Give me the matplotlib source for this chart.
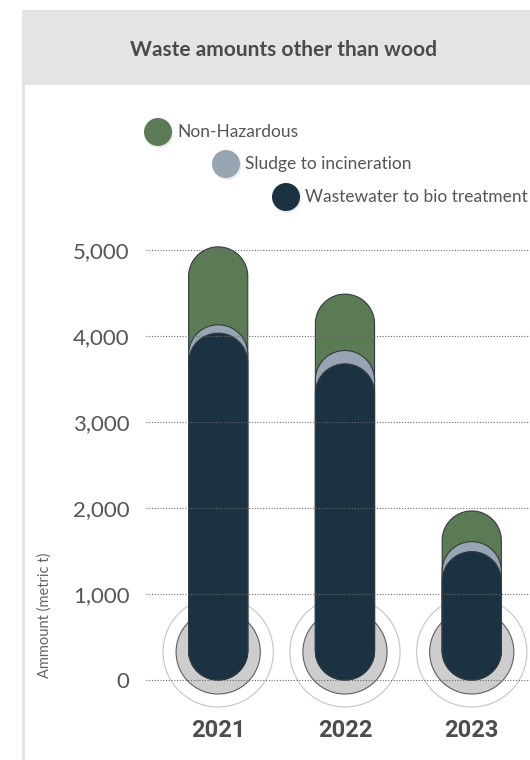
import numpy as np
import matplotlib
matplotlib.use("Agg")
import matplotlib.pyplot as plt
from matplotlib.patches import Polygon, Ellipse, Rectangle, Circle
from matplotlib.lines import Line2D

# data (metric t)
years = ["2021", "2022", "2023"]
series = ["Non-Hazardous", "Sludge to incineration", "Wastewater to bio treatment"]
wastewater = [4036, 3679, 1494]
sludge = [97, 155, 116]
non_hazardous = [907, 656, 357]
yticks = [0, 1000, 2000, 3000, 4000, 5000]

colors = ["#5b7b54", "#97a5b2", "#1b3242"]

W, H = 530, 760
fig = plt.figure(figsize=(W / 100, H / 100), dpi=100)
fig.patch.set_facecolor("white")

# overlay in pixel coordinates for header / legend
bg = fig.add_axes([0, 0, 1, 1], zorder=0)
bg.set_xlim(0, W)
bg.set_ylim(H, 0)
bg.axis("off")
bg.add_patch(Rectangle((22, 10), W - 22, 75, facecolor="#e3e5e4", edgecolor="none"))
bg.add_line(Line2D([23, 23], [85, H], color="#e2e2e2", lw=2))
bg.text(283, 50, "Waste amounts other than wood", ha="center", va="center",
        fontsize=15, fontweight="bold", family="Lato", color="#4a4a4a")

leg_pos = [(158, 132), (226, 164), (286, 197)]
for (cx, cy), name, col in zip(leg_pos, series, colors):
    bg.add_patch(Circle((cx + 1, cy + 1.5), 14.5, facecolor="#000000", alpha=0.08, edgecolor="none"))
    bg.add_patch(Circle((cx, cy), 14, facecolor=col, edgecolor="none"))
    bg.text(cx + 19, cy, name, ha="left", va="center", fontsize=12.5,
            family="Lato", color="#555555")

# main axes
ax = fig.add_axes([146 / W, 1 - 712 / H, 1 - 146 / W, (712 - 230) / H], zorder=1)
ax.patch.set_alpha(0)
x_per_px = 1 / 126.45
y_per_px = 1000 / 85.94
ax.set_xlim(-72 * x_per_px, 311 * x_per_px)
ax.set_ylim(-32 * y_per_px, 450 * y_per_px)

rx = 29.5 * x_per_px
ry = 29.5 * y_per_px


def capsule(xc, top, col):
    t1 = np.linspace(0, np.pi, 60)
    t2 = np.linspace(np.pi, 2 * np.pi, 60)
    xs = np.concatenate([xc + rx * np.cos(t1), xc + rx * np.cos(t2)])
    ys = np.concatenate([top - ry + ry * np.sin(t1), ry + ry * np.sin(t2)])
    return Polygon(np.column_stack([xs, ys]), closed=True, facecolor=col,
                   edgecolor="#333b40", lw=0.8, clip_on=False, zorder=3)


cy0 = 28 * y_per_px
for i in range(len(years)):
    ax.add_patch(Ellipse((i, cy0), 2 * 55 * x_per_px, 2 * 55 * y_per_px, facecolor="white",
                         edgecolor="#c4c4c4", lw=0.8, clip_on=False, zorder=1))
    ax.add_patch(Ellipse((i, cy0), 2 * 42 * x_per_px, 2 * 42 * y_per_px, facecolor="#cdcdcd",
                         edgecolor="#5e5e5e", lw=0.8, clip_on=False, zorder=2))
    total = wastewater[i] + sludge[i] + non_hazardous[i]
    ax.add_patch(capsule(i, total, colors[0]))
    ax.add_patch(capsule(i, wastewater[i] + sludge[i], colors[1]))
    ax.add_patch(capsule(i, wastewater[i], colors[2]))

for v in yticks:
    ax.axhline(v, color="#6a6a6a", lw=0.8, ls=(0, (1, 1.5)), zorder=4)

ax.set_yticks(yticks)
ax.set_yticklabels([f"{v:,}" for v in yticks], family="Lato",
                   fontsize=16, color="#555555")
ax.set_xticks(range(len(years)))
ax.set_xticklabels(years, family="Roboto", fontweight="bold", fontsize=17, color="#4d4d4d")
ax.tick_params(axis="y", length=0, pad=12)
ax.tick_params(axis="x", length=0, pad=5)
for s in ax.spines.values():
    s.set_visible(False)

bg.text(45, 615, "Ammount (metric t)", rotation=90, ha="center", va="center",
        fontsize=10.5, family="Lato", color="#666666")

fig.savefig("out.png", dpi=100)
